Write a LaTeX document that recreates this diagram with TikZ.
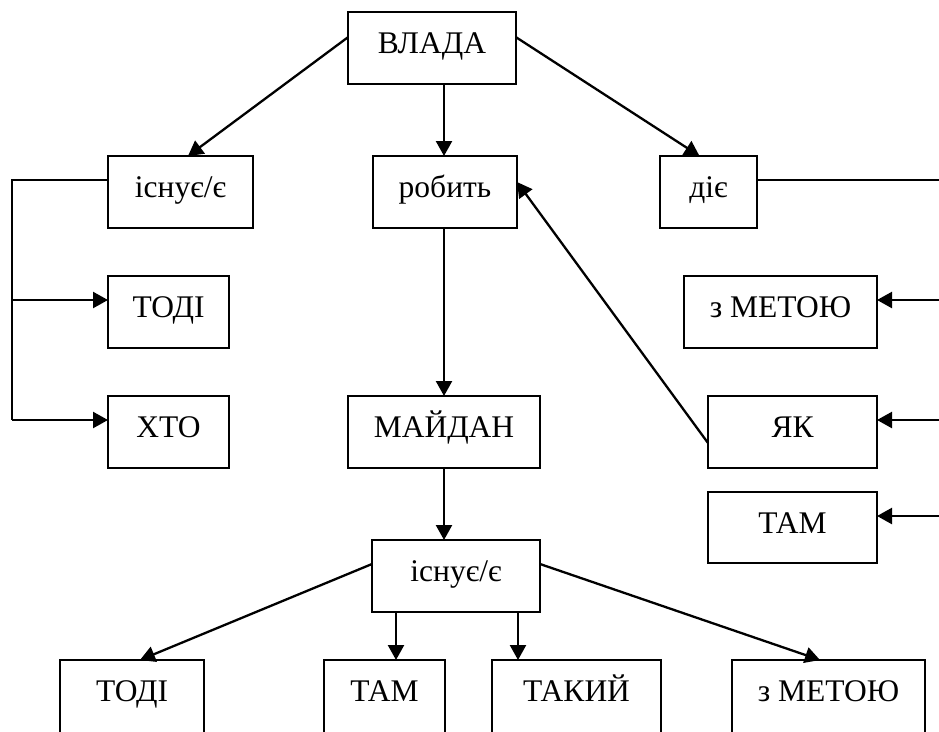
\documentclass[tikz,border=0pt]{standalone}
\usepackage{fontspec}
\setmainfont{Liberation Serif}
\usetikzlibrary{arrows.meta,calc}
\begin{document}
\begin{tikzpicture}[x=1pt,y=-1pt,
  box/.style={draw,line width=2.3pt,inner sep=0pt,outer sep=0pt,minimum height=72pt,
    text height=21pt,text depth=10pt,font=\fontsize{31.5}{36}\selectfont},
  lowbox/.style={box,minimum height=80pt,text depth=18pt},
  arr/.style={line width=2.3pt,-{Triangle[length=15pt,width=16pt]}},
  ln/.style={line width=2.3pt}]
\useasboundingbox (0,0) rectangle (939,731);
\fill[white] (0,0) rectangle (939,731);
\clip (0,0) rectangle (939,731);
% nodes
\node[box,minimum width=168pt] (vlada) at (432,48) {ВЛАДА};
\node[box,minimum width=145pt] (isnue1) at (180.5,192) {існує/є};
\node[box,minimum width=144pt] (robyt) at (445,192) {робить};
\node[box,minimum width=97pt] (die) at (708.5,192) {діє};
\node[box,minimum width=121pt] (todi1) at (168.5,312) {ТОДІ};
\node[box,minimum width=121pt] (hto) at (168.5,432) {ХТО};
\node[box,minimum width=192pt] (majdan) at (444,432) {МАЙДАН};
\node[box,minimum width=193pt] (zmet1) at (780.5,312) {з МЕТОЮ};
\node[box,minimum width=169pt] (yak) at (792.5,432) {ЯК};
\node[box,minimum width=169pt,minimum height=71pt] (tam1) at (792.5,527.5) {ТАМ};
\node[box,minimum width=168pt] (isnue2) at (456,576) {існує/є};
\node[lowbox,minimum width=144pt] (todi2) at (132,700) {ТОДІ};
\node[lowbox,minimum width=121pt] (tam2) at (384.5,700) {ТАМ};
\node[lowbox,minimum width=169pt] (takyj) at (576.5,700) {ТАКИЙ};
\node[lowbox,minimum width=193pt] (zmet2) at (828.5,700) {з МЕТОЮ};
% helper coordinates
\coordinate (lb) at (12,180);
\coordinate (rb) at (955,180);
\coordinate (isw) at ([yshift=12pt]isnue1.west);
\coordinate (t1w) at ([yshift=12pt]todi1.west);
\coordinate (hw) at ([yshift=12pt]hto.west);
\coordinate (de) at ([yshift=12pt]die.east);
\coordinate (z1e) at ([yshift=12pt]zmet1.east);
\coordinate (ye) at ([yshift=12pt]yak.east);
\coordinate (te) at ([yshift=11.5pt]tam1.east);
% top connectors
\draw[arr] ($(vlada.north west)!0.35!(vlada.south west)$) -- ([xshift=7.5pt]isnue1.north);
\draw[arr] ([xshift=12pt]vlada.south) -- ([xshift=-1pt]robyt.north);
\draw[arr] ($(vlada.north east)!0.35!(vlada.south east)$) -- ([xshift=-9pt]die.north);
% left bracket
\draw[ln] (isw) -- (lb) -- (lb |- hw);
\draw[arr] (lb |- t1w) -- (t1w);
\draw[arr] (lb |- hw) -- (hw);
% right bracket
\draw[ln] (de) -- (rb) -- (rb |- te);
\draw[arr] (rb |- z1e) -- (z1e);
\draw[arr] (rb |- ye) -- (ye);
\draw[arr] (rb |- te) -- (te);
% central column
\draw[arr] ([yshift=-11pt]yak.west) -- ([yshift=10pt]robyt.east);
\draw[arr] ([xshift=-1pt]robyt.south) -- (majdan.north);
\draw[arr] (majdan.south) -- (majdan.south |- isnue2.north);
% bottom fan
\draw[arr] ([yshift=12pt]isnue2.west) -- ([xshift=8pt]todi2.north);
\draw[arr] ([xshift=-60pt]isnue2.south) -- ([xshift=-60pt]isnue2.south |- tam2.north);
\draw[arr] ([xshift=62pt]isnue2.south) -- ([xshift=62pt]isnue2.south |- takyj.north);
\draw[arr] ([yshift=12pt]isnue2.east) -- ([xshift=-8.5pt]zmet2.north);
\end{tikzpicture}
\end{document}
